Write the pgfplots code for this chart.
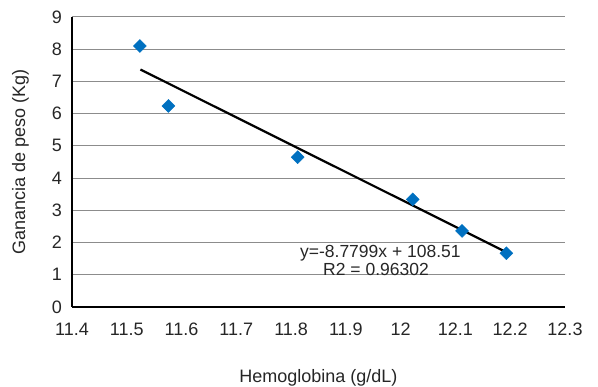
\documentclass[border=0pt]{standalone}
\usepackage{fontspec}
\setmainfont{Liberation Sans}
\usepackage{pgfplots}
\pgfplotsset{compat=1.18}
\definecolor{mblue}{RGB}{0,112,192}
\definecolor{gridgray}{RGB}{140,140,140}
\begin{document}
\begin{tikzpicture}
\useasboundingbox (-72pt,-80pt) rectangle (526pt,307pt);
\begin{axis}[
  at={(0pt,0pt)}, anchor=south west,
  scale only axis, width=493pt, height=290pt,
  xmin=11.4, xmax=12.3, ymin=0, ymax=9,
  xtick={11.4,11.5,11.6,11.7,11.8,11.9,12,12.1,12.2,12.3},
  ytick={0,1,2,3,4,5,6,7,8,9},
  axis x line*=bottom, axis y line*=left,
  axis line style={line width=2pt, black, -},
  ymajorgrids, grid style={gridgray, line width=1pt},
  major tick length=0pt,
  tick style={draw=none},
  /pgf/number format/assume math mode=true,
  tick label style={font=\fontsize{18}{21.6}\selectfont, text=black!85},
  xticklabel style={anchor=north, inner sep=0pt, yshift=-16pt},
  yticklabel style={anchor=east, inner sep=0pt, xshift=-10pt},
  xlabel={Hemoglobina (g/dL)},
  ylabel={Ganancia de peso (Kg)},
  every axis x label/.style={at={(axis description cs:0.5,-0.262)}, anchor=base, font=\fontsize{18}{21.6}\selectfont, text=black!85},
  every axis y label/.style={at={(axis description cs:-0.0953,0.5)}, anchor=base, rotate=90, font=\fontsize{18}{21.6}\selectfont, text=black!85},
  clip=false,
]
\addplot[only marks, mark=square*, mark size=4.6pt, mark options={rotate=45, fill=mblue, draw=mblue}]
  coordinates {(11.524,8.10) (11.576,6.24) (11.812,4.65) (12.022,3.34) (12.112,2.36) (12.193,1.67)};
\addplot[black, line width=2.2pt, mark=none] coordinates {(11.525,7.37) (12.193,1.70)};
\node[anchor=base, font=\fontsize{17.5}{21}\selectfont, text=black!85, inner sep=0pt] at (axis cs:11.963,1.54) {y=-8.7799x + 108.51};
\node[anchor=base, font=\fontsize{17.5}{21}\selectfont, text=black!85, inner sep=0pt] at (axis cs:11.955,0.98) {R2 = 0.96302};
\end{axis}
\end{tikzpicture}
\end{document}
